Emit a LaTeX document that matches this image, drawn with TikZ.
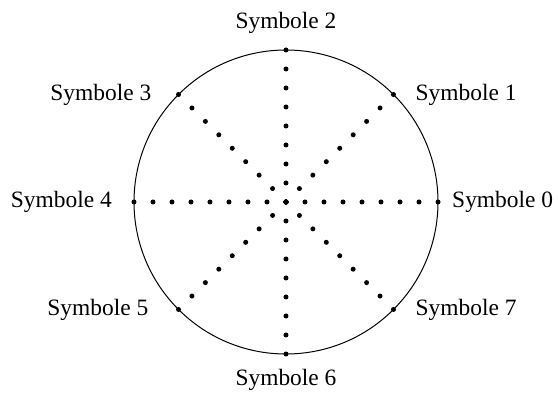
\documentclass[tikz,border=0pt]{standalone}
\usepackage{fontspec}
\setmainfont{Liberation Serif}
\usetikzlibrary{positioning}

\begin{document}
\begin{tikzpicture}[
    x=0.03cm, y=0.03cm,
    font=\fontsize{20}{24}\selectfont,
    lbl/.style={inner sep=0pt},
    rim/.style={draw, line width=0.85pt}
]
  \useasboundingbox (-286,-192) rectangle (272,202);
  \coordinate (c) at (0,0);
  \draw[rim] (c) circle (152);
  % eight rays of dots, 8 steps each
  \foreach \k in {0,...,7} {
    \coordinate (p\k) at (\k*45:152);
    \foreach \j in {0,...,8}
      \fill (\k*45:\j*19) circle (2.5);
  }
  \node[lbl, right=0.42cm of p0] (s0) {Symbole 0};
  \node[lbl, right=0.66cm of p1] (s1) {Symbole 1};
  \node[lbl, above=0.48cm of p2] (s2) {Symbole 2};
  \node[lbl, left=0.81cm of p3] (s3) {Symbole 3};
  \node[lbl, left=0.66cm of p4] (s4) {Symbole 4};
  \node[lbl, left=0.9cm of p5] (s5) {Symbole 5};
  \node[lbl, below=0.45cm of p6] (s6) {Symbole 6};
  \node[lbl, right=0.66cm of p7] (s7) {Symbole 7};
\end{tikzpicture}
\end{document}
